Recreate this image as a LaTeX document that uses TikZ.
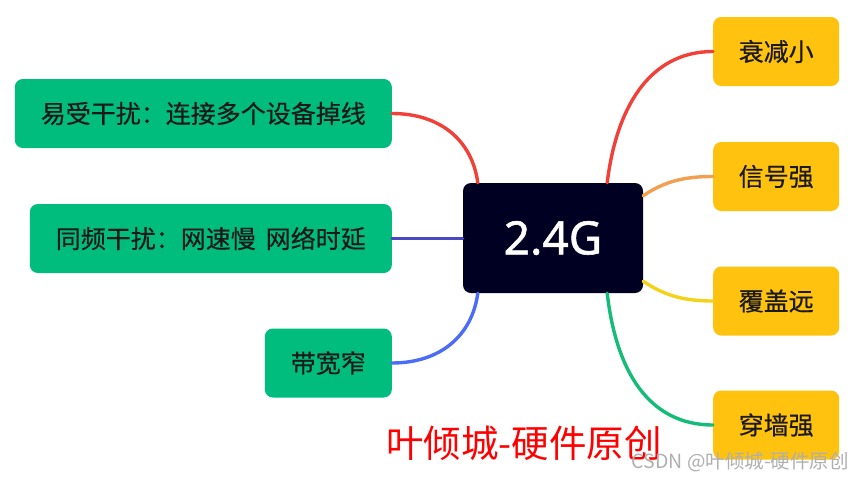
\documentclass[tikz,border=0pt]{standalone}
\usepackage{fontspec}
\usepackage{tikz}
\setmainfont{Noto Sans CJK SC}[FakeBold=0.5]
\newfontfamily\latinsans{Noto Sans}[FakeBold=1.2]
\newfontfamily\marksans{Noto Sans CJK SC}

\definecolor{boxgreen}{RGB}{0,189,126}
\definecolor{boxyellow}{RGB}{255,194,14}
\definecolor{rootnavy}{RGB}{0,0,35}
\definecolor{inkblack}{RGB}{26,26,26}
\definecolor{lnred}{RGB}{240,64,56}
\definecolor{lnindigo}{RGB}{74,71,194}
\definecolor{lnblue}{RGB}{75,108,247}
\definecolor{lnorange}{RGB}{242,160,80}
\definecolor{lnyellow}{RGB}{245,210,26}
\definecolor{lngreen}{RGB}{20,188,120}
\definecolor{markgray}{RGB}{175,175,175}

\begin{document}
\begin{tikzpicture}[x=1pt,y=-1pt,
    leftbox/.style={fill=boxgreen,text=inkblack,rounded corners=8pt,minimum height=69pt,
        inner xsep=26pt,anchor=east,font=\fontsize{25}{25}\selectfont},
    rightbox/.style={fill=boxyellow,text=inkblack,rounded corners=8pt,minimum height=69pt,
        minimum width=126pt,anchor=west,font=\fontsize{25}{25}\selectfont},
    branch/.style={line width=3.4pt,line cap=round}]
            \useasboundingbox (0,0) rectangle (865,480);

            \node[fill=rootnavy,text=white,rounded corners=8pt,minimum width=180pt,minimum height=110pt,
                font=\latinsans\fontsize{46}{46}\selectfont] (root) at (553,238) {2.4G};

            \node[leftbox] (weak) at (392,113.5) {易受干扰：连接多个设备掉线};
            \node[leftbox] (cochan) at (392,238.5) {同频干扰：网速慢\hspace{0.4em}网络时延};
            \node[leftbox] (narrow) at (392,363) {带宽窄};

            \node[rightbox] (loss) at (713,51.5) {衰减小};
            \node[rightbox] (signal) at (713,176.5) {信号强};
            \node[rightbox] (cover) at (713,301) {覆盖远};
            \node[rightbox] (wall) at (713,425) {穿墙强};

            \coordinate (tl) at ([xshift=15pt]root.north west);
            \coordinate (tr) at ([xshift=-36pt]root.north east);
            \coordinate (bl) at ([xshift=15pt]root.south west);
            \coordinate (br) at ([xshift=-36pt]root.south east);
            \coordinate (er) at ([yshift=-13pt]root.north east);
            \coordinate (fr) at ([yshift=12pt]root.south east);

            \draw[branch,lnred] (weak.east) .. controls (440,113.5) and (472,140) .. (tl);
            \draw[branch,lnindigo] (cochan.east) -- (cochan.east -| root.west);
            \draw[branch,lnblue] (narrow.east) .. controls (440,363) and (472,336) .. (bl);

            \draw[branch,lnred] (tr) .. controls (616,110) and (648,51.5) .. (loss.west);
            \draw[branch,lnorange] (er) .. controls (665,181) and (685,176.5) .. (signal.west);
            \draw[branch,lnyellow] (fr) .. controls (665,296) and (685,301) .. (cover.west);
            \draw[branch,lngreen] (br) .. controls (616,370) and (648,425) .. (wall.west);

            \node[text=red,anchor=west,inner sep=0pt,font=\marksans\fontsize{37.5}{37.5}\selectfont] (title) at (386,443) {叶倾城-硬件原创};
            \node[text=markgray,anchor=east,inner sep=0pt,font=\marksans\fontsize{19.5}{19.5}\selectfont] (mark) at (849,462) {CSDN @叶倾城-硬件原创};
        \end{tikzpicture}
\end{document}
